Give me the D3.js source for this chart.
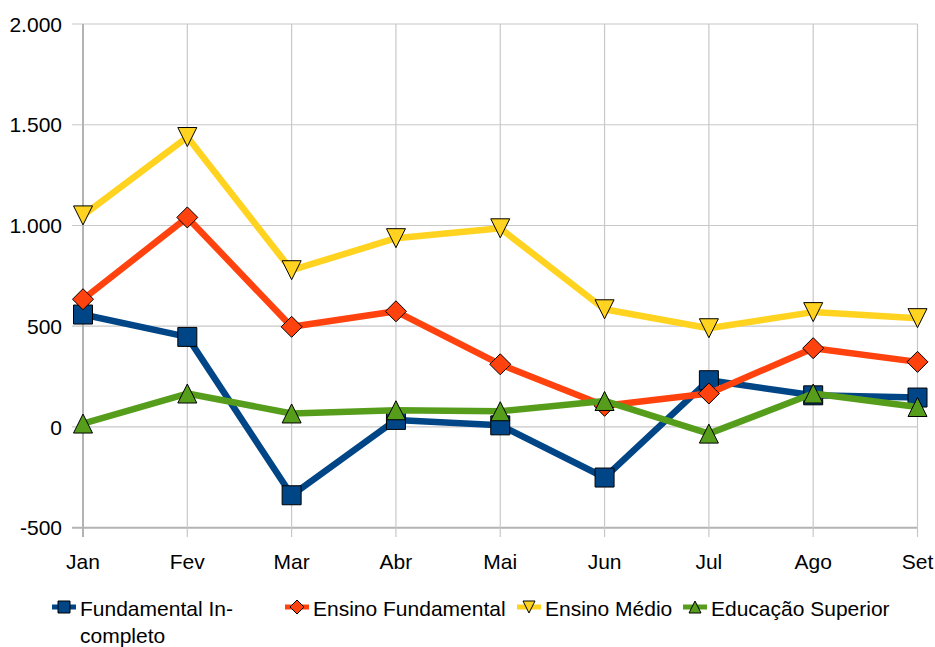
<!DOCTYPE html>
<html>
<head>
<meta charset="utf-8">
<script src="https://cdn.jsdelivr.net/npm/d3@7"></script>
<style>
  body { margin: 0; background: #fff; }
  text { font-family: "Liberation Sans", Arial, sans-serif; fill: #000; }
</style>
</head>
<body>
<svg id="chart" width="935" height="647"></svg>
<script>
// months on the x axis
var months = ["Jan", "Fev", "Mar", "Abr", "Mai", "Jun", "Jul", "Ago", "Set"];
var yTicks = [-500, 0, 500, 1000, 1500, 2000];

// series values
var fundIncompleto = [558, 447, -339, 35, 8, -251, 232, 157, 146];
var ensinoFundamental = [634, 1040, 497, 574, 311, 105, 166, 391, 323];
var ensinoMedio = [1050, 1439, 778, 937, 986, 584, 490, 570, 540];
var educacaoSuperior = [17, 166, 67, 83, 78, 129, -33, 166, 99];

var seriesNames = ["Fundamental In-|completo", "Ensino Fundamental", "Ensino Médio", "Educação Superior"];
var seriesColors = ["#004586", "#ff420e", "#ffd320", "#579d1c"];
var seriesShapes = ["square", "diamond", "triDown", "triUp"];
var seriesValues = [fundIncompleto, ensinoFundamental, ensinoMedio, educacaoSuperior];

var svg = d3.select("#chart");

var x = d3.scalePoint().domain(months).range([83, 917.5]);
var y = d3.scaleLinear().domain([-500, 2000]).range([527.7, 24]);

// marker path centred on 0,0 with half size r
function shapePath(type, r) {
	if (type == "square") return "M" + -r + "," + -r + "H" + r + "V" + r + "H" + -r + "Z";
	if (type == "diamond") return "M0," + -r + "L" + r + ",0L0," + r + "L" + -r + ",0Z";
	if (type == "triDown") return "M" + -r + "," + -r + "L" + r + "," + -r + "L0," + r + "Z";
	return "M0," + -r + "L" + r + "," + r + "L" + -r + "," + r + "Z";
}

// grid
svg.append("g")
	.selectAll("line")
	.data(yTicks)
	.enter().append("line")
	.attr("x1", 72).attr("x2", 917.5)
	.attr("y1", function(d) { return y(d); })
	.attr("y2", function(d) { return y(d); })
	.attr("stroke", function(d) { return d == -500 ? "#b3b3b3" : "#c8c8c8"; })
	.attr("stroke-width", function(d) { return d == -500 ? 2 : 1.2; });

svg.append("g")
	.selectAll("line")
	.data(months)
	.enter().append("line")
	.attr("x1", function(d) { return x(d); })
	.attr("x2", function(d) { return x(d); })
	.attr("y1", 24).attr("y2", 537)
	.attr("stroke", function(d, i) { return i == 0 ? "#b3b3b3" : "#c8c8c8"; })
	.attr("stroke-width", function(d, i) { return i == 0 ? 2 : 1.2; });

// axis labels (pt-BR thousands dot, plain hyphen minus)
var fmt = function(d) { return d3.format(",")(d).replace(/,/g, ".").replace("\u2212", "-"); };

svg.append("g")
	.selectAll("text")
	.data(yTicks)
	.enter().append("text")
	.attr("x", 62)
	.attr("y", function(d) { return y(d); })
	.attr("dy", "0.36em")
	.attr("text-anchor", "end")
	.style("font-size", "21px")
	.text(fmt);

svg.append("g")
	.selectAll("text")
	.data(months)
	.enter().append("text")
	.attr("x", function(d) { return x(d); })
	.attr("y", 569)
	.attr("text-anchor", "middle")
	.style("font-size", "21px")
	.text(function(d) { return d; });

// lines and markers
var line = d3.line()
	.x(function(d, i) { return x(months[i]); })
	.y(function(d) { return y(d); });

seriesValues.forEach(function(vals, s) {
	var g = svg.append("g");
	g.append("path")
		.attr("d", line(vals))
		.attr("fill", "none")
		.attr("stroke", seriesColors[s])
		.attr("stroke-width", 6.5)
		.attr("stroke-linejoin", "round");
	g.selectAll(".mk")
		.data(vals)
		.enter().append("path")
		.attr("class", "mk")
		.attr("transform", function(d, i) { return "translate(" + x(months[i]) + "," + y(d) + ")"; })
		.attr("d", shapePath(seriesShapes[s], seriesShapes[s] == "diamond" ? 10.5 : 9.5))
		.attr("fill", seriesColors[s])
		.attr("stroke", "#000")
		.attr("stroke-width", 1);
});

// legend
var legendX = [52, 285, 517, 683];
var legend = svg.append("g");
seriesNames.forEach(function(name, s) {
	var lx = legendX[s], ly = 607;
	legend.append("line")
		.attr("x1", lx).attr("x2", lx + 24)
		.attr("y1", ly).attr("y2", ly)
		.attr("stroke", seriesColors[s])
		.attr("stroke-width", 5);
	legend.append("path")
		.attr("transform", "translate(" + (lx + 12) + "," + ly + ")")
		.attr("d", shapePath(seriesShapes[s], seriesShapes[s] == "diamond" ? 7 : 6))
		.attr("fill", seriesColors[s])
		.attr("stroke", "#000")
		.attr("stroke-width", 1);
	var t = legend.append("text")
		.attr("x", lx + 28)
		.attr("y", 616)
		.style("font-size", "21px");
	name.split("|").forEach(function(part, k) {
		t.append("tspan")
			.attr("x", lx + 28)
			.attr("dy", k == 0 ? 0 : 27)
			.text(part);
	});
});
</script>
</body>
</html>
